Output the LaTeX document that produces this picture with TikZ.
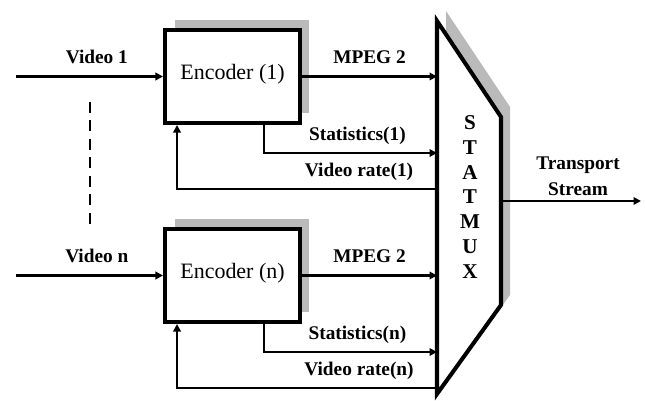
\documentclass[tikz,border=0pt]{standalone}
\usepackage{fontspec}
\setmainfont{Liberation Serif}
\usetikzlibrary{arrows.meta, shadows, calc}

\tikzset{
  encbox/.style={draw, fill=white, line width=2.3pt, minimum width=2.7cm, minimum height=1.86cm,
    text depth=0.18cm, font=\fontsize{12.5}{15}\selectfont,
    drop shadow={shadow xshift=0.19cm, shadow yshift=0.2cm, fill=black!27, opacity=1}},
  muxline/.style={draw, fill=white, line width=2.3pt, line join=miter,
    drop shadow={shadow xshift=0.18cm, shadow yshift=0.2cm, fill=black!27, opacity=1}},
  muxtext/.style={font=\fontsize{12}{14.2}\selectfont\bfseries, align=center},
  lbl/.style={font=\fontsize{11}{13.6}\selectfont\bfseries, inner sep=0pt, text depth=0pt, above=0.23cm}
}

\begin{document}
\begin{tikzpicture}[x=0.02cm, y=-0.02cm, >={Triangle[length=0.15cm, width=0.15cm]}, line width=1.6pt]
    \useasboundingbox (0,0) rectangle (645,401);

    % encoders
    \node[encbox] (E1) at (232.5,76.5) {Encoder (1)};
    \node[encbox] (En) at (232.5,275.5) {Encoder (n)};

    % statmux
    \draw[muxline] (437,21) coordinate (M1) -- (501,117) coordinate (M2) -- (501,305) coordinate (M3) -- (437,394) coordinate (M4) -- cycle;
    \node[muxtext] (MUX) at (470,197) {S\\T\\A\\T\\M\\U\\X};

    % inputs
    \coordinate (V1) at (16,76.5);
    \coordinate (Vn) at (16,275.5);
    \draw[->] (V1) -- node[lbl, pos=0.55] {Video 1} (E1.west);
    \draw[->] (Vn) -- node[lbl, pos=0.55] {Video n} (En.west);
    \coordinate (D1) at (90,102);
    \coordinate (D2) at (90,225);
    \draw[dash pattern=on 0.22cm off 0.15cm] (D1) -- (D2);

    % encoder 1 to mux
    \draw[->] (E1.east) -- node[lbl] {MPEG 2} (E1.east -| M1);
    \draw[->] ([xshift=0.63cm]E1.south) |- node[lbl, pos=0.77] {Statistics(1)} ([yshift=-0.56cm]E1.south -| M1);
    \draw[->] ([yshift=-1.28cm]E1.south -| M1) -| node[lbl, pos=0.15] {Video rate(1)} ([xshift=-1.11cm]E1.south);

    % encoder n to mux
    \draw[->] (En.east) -- node[lbl] {MPEG 2} (En.east -| M1);
    \draw[->] ([xshift=0.63cm]En.south) |- node[lbl, pos=0.77] {Statistics(n)} ([yshift=-0.56cm]En.south -| M1);
    \draw[->] ([yshift=-1.28cm]En.south -| M1) -| node[lbl, pos=0.15] {Video rate(n)} ([xshift=-1.11cm]En.south);

    % output
    \coordinate (TS) at (641,201);
    \draw[->] (TS -| M2) -- node[lbl, above=-0.15cm, align=center, pos=0.55] {Transport\\[0.05cm]Stream} (TS);

\end{tikzpicture}
\end{document}
